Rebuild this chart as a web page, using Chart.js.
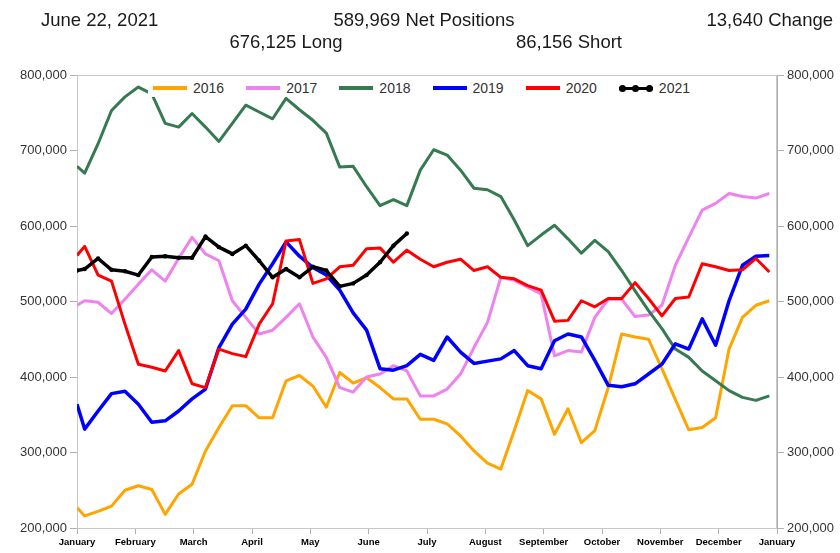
<!DOCTYPE html>
<html>
<head>
<meta charset="utf-8">
<script src="https://cdn.jsdelivr.net/npm/chart.js@4.4.1/dist/chart.umd.min.js"></script>
<style>
  body { margin: 0; background: #fff; font-family: 'Liberation Sans', Arial, sans-serif; }
  #wrap { position: relative; width: 840px; height: 553px; overflow: hidden; }
  #chart { position: absolute; left: 0; top: 0; }
  .hdr { position: absolute; font-size: 18.5px; line-height: 18px; color: #1a1a1a; white-space: nowrap; }
  .mid { transform: translateX(-50%); }
  #legend { position: absolute; left: 148px; top: 79px; height: 18px; width: 564px; padding-left: 5px;
            box-sizing: border-box; background: #fff; display: flex; }
  .item { width: 96px; display: flex; align-items: center; font-size: 14px; color: #333; }
  .swatch { width: 34px; height: 4px; margin-right: 6px; position: relative; }
  .dot { position: absolute; top: -1.5px; width: 7px; height: 7px; border-radius: 50%; background: #000; }
</style>
</head>
<body>
<div id="wrap">
  <canvas id="chart" width="840" height="553"></canvas>
  <div class="hdr" style="left:41px; top:11px;">June 22, 2021</div>
  <div class="hdr mid" style="left:424px; top:11px;">589,969 Net Positions</div>
  <div class="hdr" style="right:7px; top:11px;">13,640 Change</div>
  <div class="hdr mid" style="left:286px; top:33px;">676,125 Long</div>
  <div class="hdr mid" style="left:569px; top:33px;">86,156 Short</div>
  <div id="legend"></div>
</div>
<script>
// Report dates as day of year (Jan 1 = 0), then weekly Tuesdays
const reportDays = [0, 4, 11, 18, 25, 32, 39, 46, 53, 60, 67, 74, 81, 88, 95, 102, 109, 116, 123, 130,
    137, 144, 151, 158, 165, 172, 179, 186, 193, 200, 207, 214, 221, 228, 235, 242, 249, 256, 263, 270,
    277, 284, 291, 298, 305, 312, 319, 326, 333, 340, 347, 354, 361];

const monthLabels = ['January', 'February', 'March', 'April', 'May', 'June', 'July', 'August',
    'September', 'October', 'November', 'December', 'January'];

const years = ['2016', '2017', '2018', '2019', '2020', '2021'];
const colors = ['#ffa500', '#ee82ee', '#357a50', '#0000ff', '#ff0000', '#000000'];

// Net positions per week
const pos2016 = [227000, 216000, 222000, 229000, 250000, 256000, 251000, 218000, 245000, 258000,
    302000, 333000, 362000, 362000, 346000, 346000, 395000, 402000, 388000, 360000,
    406000, 392000, 399000, 386000, 371000, 371000, 344000, 344000, 338000, 322000,
    302000, 286000, 278000, 329000, 382000, 371000, 324000, 358000, 313000, 329000,
    386000, 457000, 453000, 450000, 411000, 370000, 330000, 333000, 346000, 437000,
    479000, 495000, 501000];
const pos2017 = [495000, 501000, 499000, 484000, 503000, 523000, 542000, 527000, 557000, 585000,
    563000, 554000, 501000, 479000, 457000, 462000, 479000, 497000, 453000, 426000,
    386000, 380000, 400000, 404000, 415000, 408000, 375000, 375000, 384000, 404000,
    439000, 472000, 532000, 528000, 519000, 510000, 428000, 435000, 433000, 479000,
    503000, 503000, 480000, 482000, 495000, 548000, 585000, 621000, 630000, 643000,
    639000, 637000, 643000];
const pos2018 = [679000, 670000, 709000, 753000, 771000, 784000, 775000, 736000, 731000, 749000,
    731000, 712000, 736000, 760000, 751000, 742000, 769000, 754000, 740000, 723000,
    678000, 679000, 652000, 627000, 635000, 627000, 674000, 701000, 694000, 674000,
    650000, 648000, 639000, 608000, 574000, 588000, 601000, 583000, 564000, 581000,
    566000, 541000, 514000, 488000, 464000, 437000, 426000, 408000, 395000, 382000,
    373000, 369000, 375000];
const pos2019 = [364000, 331000, 355000, 378000, 381000, 364000, 340000, 342000, 355000, 371000,
    384000, 439000, 470000, 490000, 523000, 550000, 579000, 560000, 545000, 535000,
    515000, 485000, 462000, 411000, 409000, 415000, 430000, 422000, 453000, 433000,
    418000, 421000, 424000, 435000, 415000, 411000, 448000, 457000, 453000, 422000,
    389000, 387000, 391000, 404000, 417000, 444000, 437000, 477000, 442000, 501000,
    548000, 560000, 561000];
const pos2020 = [561000, 573000, 535000, 527000, 470000, 417000, 413000, 408000, 435000, 391000,
    386000, 437000, 431000, 427000, 470000, 497000, 580000, 582000, 524000, 530000,
    546000, 548000, 570000, 571000, 552000, 568000, 556000, 546000, 552000, 556000,
    541000, 546000, 532000, 530000, 521000, 515000, 474000, 475000, 501000, 493000,
    504000, 504000, 525000, 504000, 481000, 504000, 506000, 550000, 546000, 541000,
    542000, 557000, 539000];
const pos2021 = [541000, 543000, 557000, 542000, 540000, 535000, 559000, 560000, 558000, 558000,
    586000, 572000, 563000, 574000, 554000, 532000, 543000, 532000, 546000, 541000,
    520000, 524000, 535000, 552000, 574000, 590000];

const allSeries = [pos2016, pos2017, pos2018, pos2019, pos2020, pos2021];

function toPoints(values) {
    return values.map((v, i) => ({ x: reportDays[i], y: v }));
}

// HTML legend laid over the top of the plot
const legendEl = document.getElementById('legend');
years.forEach((year, i) => {
    const item = document.createElement('div');
    item.className = 'item';
    const sw = document.createElement('span');
    sw.className = 'swatch';
    sw.style.background = colors[i];
    if (year === '2021') {
        sw.style.height = '3px';
        [0, 13.5, 27].forEach(left => {
            const d = document.createElement('span');
            d.className = 'dot';
            d.style.left = left + 'px';
            sw.appendChild(d);
        });
    }
    const txt = document.createElement('span');
    txt.textContent = year;
    item.appendChild(sw);
    item.appendChild(txt);
    legendEl.appendChild(item);
});

Chart.defaults.font.family = "'Liberation Sans', Arial, sans-serif";

const framePlugin = {
    id: 'frame',
    beforeDatasetsDraw(chart) {
        const { ctx, chartArea: a } = chart;
        ctx.save();
        ctx.strokeStyle = '#c8c8c8';
        ctx.lineWidth = 1;
        ctx.strokeRect(a.left + 0.5, a.top + 0.5, a.right - a.left - 1, a.bottom - a.top);
        ctx.restore();
    }
};

const yAxis = (position, width) => ({
    type: 'linear',
    position: position,
    min: 200000,
    max: 800000,
    afterFit: scale => { scale.width = width; },
    grid: { drawOnChartArea: false, tickLength: 7, color: '#b0b0b0' },
    border: { color: '#b0b0b0' },
    ticks: {
        stepSize: 100000,
        padding: 3,
        color: '#333',
        font: { size: 13 },
        callback: v => v.toLocaleString('en-US')
    }
});

new Chart(document.getElementById('chart'), {
    type: 'line',
    data: {
        datasets: years.map((year, i) => ({
            label: year,
            data: toPoints(allSeries[i]),
            borderColor: colors[i],
            backgroundColor: colors[i],
            borderWidth: year === '2021' || year === '2019' ? 3.5 : 3,
            pointRadius: year === '2021' ? 2.2 : 0,
            pointBorderWidth: 0,
            tension: 0,
            borderJoinStyle: 'round',
            order: years.length - i
        }))
    },
    options: {
        responsive: false,
        animation: false,
        layout: { padding: { top: 75, left: 0, right: 0, bottom: 0 } },
        plugins: {
            legend: { display: false },
            tooltip: { enabled: false }
        },
        scales: {
            x: {
                type: 'linear',
                min: 0,
                max: 365,
                afterFit: scale => { scale.height = 25; },
                afterBuildTicks: scale => {
                    scale.ticks = monthLabels.map((_, m) => ({ value: 365 * m / 12 }));
                },
                grid: { drawOnChartArea: false, tickLength: 6, color: '#b0b0b0' },
                border: { color: '#b0b0b0' },
                ticks: {
                    autoSkip: false,
                    maxRotation: 0,
                    padding: 3,
                    color: '#000',
                    font: { size: 9.5, weight: 'bold' },
                    callback: (v, i) => monthLabels[i]
                }
            },
            y: yAxis('left', 77),
            y2: yAxis('right', 63)
        }
    },
    plugins: [framePlugin]
});
</script>
</body>
</html>
